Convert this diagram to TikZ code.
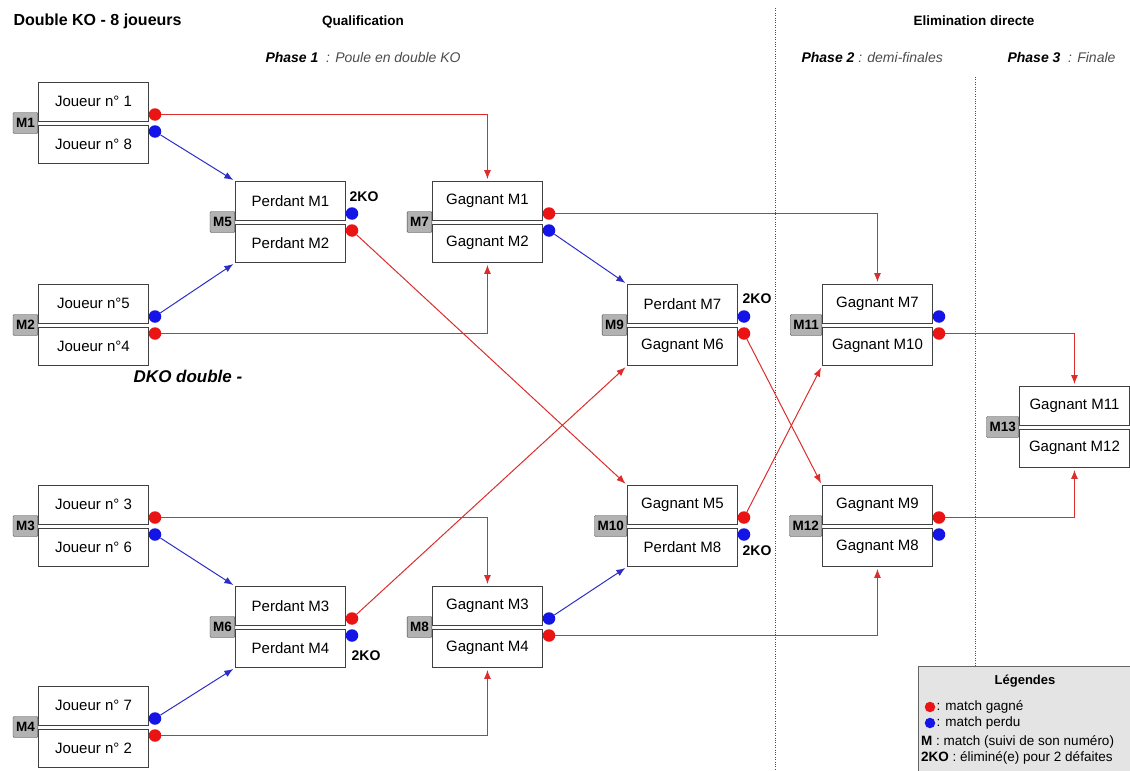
\documentclass[tikz,border=0pt]{standalone}
\usepackage{fontspec}
\setmainfont{Liberation Sans}
\usetikzlibrary{arrows.meta}

\definecolor{winred}{RGB}{235,20,20}
\definecolor{loseblue}{RGB}{20,20,230}
\definecolor{linered}{RGB}{220,45,45}
\definecolor{lineblue}{RGB}{45,45,200}
\definecolor{tabgray}{RGB}{178,178,178}
\definecolor{legendgray}{RGB}{228,228,228}

\begin{document}
\begin{tikzpicture}[x=1pt, y=-1pt,
    slot/.style={draw=black!75, line width=0.9pt, minimum width=110pt, minimum height=38.5pt,
        inner sep=0pt, font=\fontsize{15}{17}\selectfont},
    tab/.style={draw=black!75, fill=tabgray, rounded corners=1pt, anchor=east, minimum height=21pt,
        inner xsep=3pt, inner ysep=0pt, font=\fontsize{13.5}{15}\selectfont\bfseries},
    dot/.style={circle, inner sep=0pt, minimum size=12.5pt},
    win/.style={linered, line width=1pt, shorten >=2pt, -{Latex[length=9pt,width=7pt]}},
    lose/.style={lineblue, line width=1pt, shorten >=2pt, -{Latex[length=9pt,width=7pt]}},
    ko/.style={font=\fontsize{14}{16}\selectfont\bfseries},
    head/.style={font=\fontsize{13.5}{16}\selectfont\bfseries},
    phase/.style={anchor=west, font=\fontsize{14}{16}\selectfont\itshape},
    legtext/.style={anchor=west, inner sep=1pt, font=\fontsize{13.5}{15}\selectfont},
    ]

    \useasboundingbox (0,0) rectangle (1130,771);

    % titles
    \node[anchor=west, font=\fontsize{16}{18}\selectfont\bfseries] (title) at (10,21) {Double KO - 8 joueurs};
    \node[head] (qualif) at (363,22) {Qualification};
    \node[head] (elim) at (974,21) {Elimination directe};
    \node[phase] (phase1) at (262,57) {\textbf{Phase 1}\ \ \textcolor{black!70}{: Poule en double KO}};
    \node[phase] (phase2) at (798,57) {\textbf{Phase 2} \textcolor{black!70}{: demi-finales}};
    \node[phase] (phase3) at (1004,57) {\textbf{Phase 3}\ \ \textcolor{black!70}{: Finale}};

    % separations
    \draw[dotted, black!70] (775,8) -- (775,771);
    \draw[dotted, black!70] (975,77) -- (975,666);

    % matches
    \foreach \n/\x/\y/\up/\dn/\s in {
        1/38/123/Joueur n° 1/Joueur n° 8/1,
        2/38/325/Joueur n°5/Joueur n°4/-1,
        3/38/526/Joueur n° 3/Joueur n° 6/1,
        4/38/727/Joueur n° 7/Joueur n° 2/-1,
        5/235/222/Perdant M1/Perdant M2/-1,
        6/235/627/Perdant M3/Perdant M4/1,
        7/432/222/Gagnant M1/Gagnant M2/1,
        8/432/627/Gagnant M3/Gagnant M4/-1,
        9/627/325/Perdant M7/Gagnant M6/-1,
        10/627/526/Gagnant M5/Perdant M8/1,
        11/822/325/Gagnant M7/Gagnant M10/-1,
        12/822/526/Gagnant M9/Gagnant M8/1,
        13/1019/427/Gagnant M11/Gagnant M12/0}
    {
        \node[slot, anchor=south west] (m\n a) at (\x,\y-1.5) {\up};
        \node[slot, anchor=north west] (m\n b) at (\x,\y+1.5) {\dn};
        \node[tab] (t\n) at (\x,\y) {M\n};
        \ifnum\s=0 \else
            \node[dot, fill=winred] (r\n) at (\x+117,\y-8.5*\s) {};
            \node[dot, fill=loseblue] (b\n) at (\x+117,\y+8.5*\s) {};
        \fi
    }

    % eliminated
    \node[ko] (ko5) at (364,197) {2KO};
    \node[ko] (ko6) at (366,656) {2KO};
    \node[ko] (ko9) at (757,299) {2KO};
    \node[ko] (ko10) at (757,551) {2KO};
    \node[font=\fontsize{17}{20}\selectfont\bfseries\itshape] (dko) at (188,376) {DKO double -};

    % round 1
    \draw[win] (r1) -| (m7a.north);
    \draw[lose] (b1) -- (m5a.north west);
    \draw[lose] (b2) -- (m5b.south west);
    \draw[win] (r2) -| (m7b.south);
    \draw[win] (r3) -| (m8a.north);
    \draw[lose] (b3) -- (m6a.north west);
    \draw[lose] (b4) -- (m6b.south west);
    \draw[win] (r4) -| (m8b.south);

    % round 2
    \draw[win] (r5) -- (m10a.north west);
    \draw[win] (r6) -- (m9b.south west);
    \draw[win] (r7) -| (m11a.north);
    \draw[lose] (b7) -- (m9a.north west);
    \draw[lose] (b8) -- (m10b.south west);
    \draw[win] (r8) -| (m12b.south);

    % semi-finals and final
    \draw[win] (r9) -- (m12a.north west);
    \draw[win] (r10) -- (m11b.south west);
    \draw[win] (r11) -| (m13a.north);
    \draw[win] (r12) -| (m13b.south);

    % legend
    \draw[black!60, fill=legendgray] (918,666) rectangle (1136,777);
    \node[font=\fontsize{13}{15}\selectfont\bfseries] (leg) at (1025,681) {Légendes};
    \node[dot, fill=winred, minimum size=10.5pt] (legr) at (930,707) {};
    \node[legtext] (legrt) at (legr.east) {: match gagné};
    \node[dot, fill=loseblue, minimum size=10.5pt] (legb) at (930,723) {};
    \node[legtext] (legbt) at (legb.east) {: match perdu};
    \node[legtext] (legm) at (920,742) {\textbf{M} : match (suivi de son numéro)};
    \node[legtext] (legko) at (920,758) {\textbf{2KO} : éliminé(e) pour 2 défaites};

\end{tikzpicture}
\end{document}
